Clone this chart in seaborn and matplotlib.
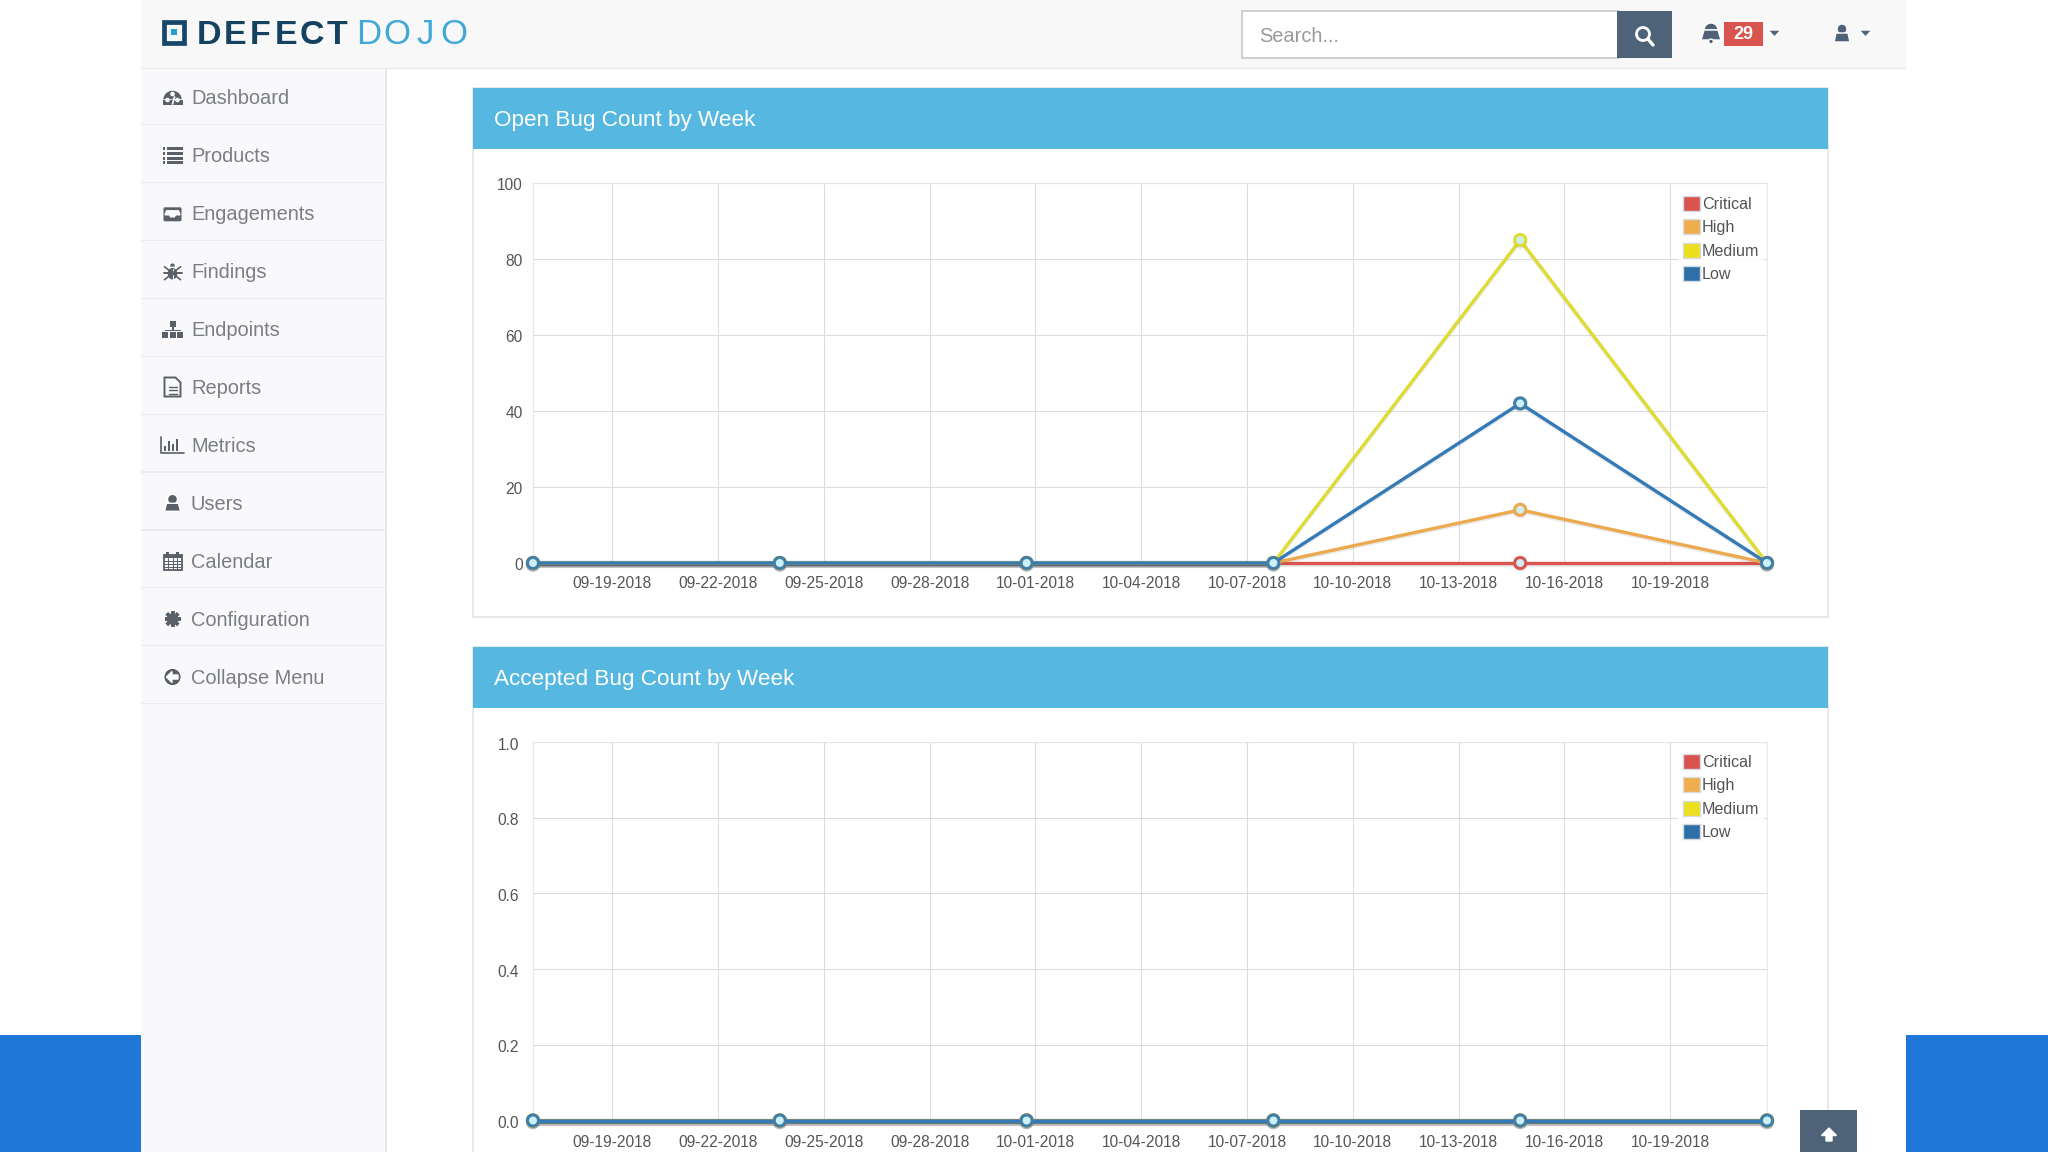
import pandas as pd
import matplotlib
matplotlib.use('Agg')
import matplotlib.pyplot as plt
import matplotlib.patheffects as pe
from matplotlib.patches import Rectangle, Circle, Ellipse, Wedge, Polygon, Patch, FancyBboxPatch
from matplotlib.transforms import ScaledTranslation
import seaborn as sns

# Dados dos dois graficos
week_dates = ['2018-09-16 18:00', '2018-09-23 18:00', '2018-09-30 18:00',
              '2018-10-07 18:00', '2018-10-14 18:00', '2018-10-21 18:00']
severities = ['Critical', 'High', 'Medium', 'Low']
open_critical = [0, 0, 0, 0, 0, 0]
open_high = [0, 0, 0, 0, 14, 0]
open_medium = [0, 0, 0, 0, 85, 0]
open_low = [0, 0, 0, 0, 42, 0]
accepted_critical = [0, 0, 0, 0, 0, 0]
accepted_high = [0, 0, 0, 0, 0, 0]
accepted_medium = [0, 0, 0, 0, 0, 0]
accepted_low = [0, 0, 0, 0, 0, 0]
tick_dates = ['2018-09-19', '2018-09-22', '2018-09-25', '2018-09-28', '2018-10-01', '2018-10-04',
              '2018-10-07', '2018-10-10', '2018-10-13', '2018-10-16', '2018-10-19']
tick_labels = ['09-19-2018', '09-22-2018', '09-25-2018', '09-28-2018', '10-01-2018', '10-04-2018',
               '10-07-2018', '10-10-2018', '10-13-2018', '10-16-2018', '10-19-2018']
open_yticks = [0, 20, 40, 60, 80, 100]
accepted_yticks = [0.0, 0.2, 0.4, 0.6, 0.8, 1.0]
menu_items = ['Dashboard', 'Products', 'Engagements', 'Findings', 'Endpoints', 'Reports',
              'Metrics', 'Users', 'Calendar', 'Configuration', 'Collapse Menu']

colors = {'Critical': '#d9534f', 'High': '#eda94f', 'Medium': '#dedc33', 'Low': '#337ab7'}
legend_colors = {'Critical': '#d9534f', 'High': '#f0ad4e', 'Medium': '#ebdf1e', 'Low': '#2f6fa8'}
ICON = '#5a6068'
TEXT = '#7a7e84'
PANEL = '#56b8e0'
SIDE = '#f9f9fb'
DARK = '#4f6378'

sns.set_theme(style='whitegrid')
plt.rcParams['font.family'] = ['Liberation Sans', 'DejaVu Sans']

W, H = 2048, 1152
fig = plt.figure(figsize=(W / 100, H / 100), dpi=100, facecolor='white')

# Fundo da pagina em coordenadas de pixel
page = fig.add_axes([0, 0, 1, 1], zorder=0)
page.set_xlim(0, W)
page.set_ylim(H, 0)
page.axis('off')


def box(x0, y0, x1, y1, color, **kw):
    page.add_patch(Rectangle((x0, y0), x1 - x0, y1 - y0, facecolor=color, edgecolor=kw.pop('edge', 'none'),
                             linewidth=kw.pop('lw', 0), **kw))


box(0, 1035, 141, H, '#1f78d8')
box(1906, 1035, W, H, '#1f78d8')
box(141, 0, 1906, H, 'white')
box(141, 0, 386, H, SIDE)
box(385, 68, 386.5, H, '#e7e7e7')
box(141, 0, 1906, 68, '#f8f8f8')
box(141, 67.5, 1906, 68.5, '#e7e7e7')

# Logotipo
box(163.5, 21.5, 184, 43, 'none', edge='#17466b', lw=3.4)
box(171, 29, 177, 35, '#2a9fd0')
for i, ch in enumerate('DEFECT'):
    page.text(209 + i * 25.6, 44, ch, fontsize=24.5, fontweight='bold', color='#14425f', va='baseline', ha='center')
for i, ch in enumerate('DOJO'):
    page.text(369 + i * 28.2, 44, ch, fontsize=25, color='#3fa9d6', va='baseline', ha='center')

# Barra de pesquisa e icones do topo
box(1242, 11, 1619, 58, 'white', edge='#cccccc', lw=1.3)
box(1617, 11, 1672, 58, DARK)
page.text(1259, 36.5, 'Search...', fontsize=14.4, color='#999999', va='center')
page.add_patch(Circle((1643, 34), 6.5, facecolor='none', edgecolor='white', linewidth=2))
page.plot([1648, 1653], [39, 45], color='white', lw=2.4)
page.add_patch(Wedge((1711, 30), 7, 180, 360, facecolor=DARK))
page.add_patch(Polygon([(1704, 30), (1718, 30), (1721, 40), (1701, 40)], facecolor=DARK))
page.add_patch(Circle((1711, 41.5), 2.4, facecolor=DARK))
box(1724, 22, 1763, 46, '#d9534f')
page.text(1743.5, 34.5, '29', fontsize=13, fontweight='bold', color='white', ha='center', va='center')
page.add_patch(Polygon([(1768, 30), (1781, 30), (1774.5, 37)], facecolor=DARK))
page.add_patch(Circle((1842, 29), 5, facecolor=DARK))
page.add_patch(Polygon([(1836, 33), (1848, 33), (1850, 42), (1834, 42)], facecolor=DARK))
page.add_patch(Polygon([(1859, 30), (1872, 30), (1865.5, 37)], facecolor=DARK))


# Icones do menu, cada um centrado em (x, y)
def draw_icon(name, x, y):
    if name == 'Dashboard':
        page.add_patch(Wedge((x, y + 2), 10, 180, 360, facecolor=ICON))
        box(x - 10, y + 2, x + 10, y + 7, ICON)
        page.add_patch(Circle((x - 5, y + 2), 1.6, facecolor=SIDE))
        page.add_patch(Circle((x + 5, y + 2), 1.6, facecolor=SIDE))
        page.add_patch(Circle((x, y - 4), 1.6, facecolor=SIDE))
        page.plot([x, x + 2], [y + 6, y - 1], color=SIDE, lw=1.3)
    elif name == 'Products':
        for k in (-7, -2.4, 2.2, 6.8):
            box(x - 10, y + k - 1.5, x - 7.5, y + k + 1.5, ICON)
            box(x - 6, y + k - 1.5, x + 10, y + k + 1.5, ICON)
    elif name == 'Engagements':
        page.add_patch(FancyBboxPatch((x - 7.5, y - 5), 15, 11, boxstyle='round,pad=1.5', facecolor=ICON, linewidth=0))
        page.add_patch(Polygon([(x - 6, y - 3), (x + 6, y - 3), (x + 7.5, y + 1), (x + 3, y + 1), (x + 2, y + 3), (x - 2, y + 3),
                                (x - 3, y + 1), (x - 7.5, y + 1)], facecolor=SIDE))
    elif name == 'Findings':
        page.add_patch(Circle((x, y - 6), 3, facecolor=ICON))
        page.add_patch(Ellipse((x, y + 2), 11, 13, facecolor=ICON))
        page.plot([x, x], [y - 3, y + 9], color=SIDE, lw=.8)
        page.plot([x - 9, x + 9], [y + 1, y + 1], color=ICON, lw=1.4)
        page.plot([x - 8, x + 8], [y + 8, y - 5], color=ICON, lw=1.2)
        page.plot([x - 8, x + 8], [y - 5, y + 8], color=ICON, lw=1.2)
    elif name == 'Endpoints':
        box(x - 3, y - 9, x + 3, y - 3, ICON)
        box(x - 1, y - 3, x + 1, y + 1, ICON)
        box(x - 8, y, x + 8, y + 1.5, ICON)
        for k in (-7.5, 0, 7.5):
            box(x + k - 3, y + 2, x + k + 3, y + 8, ICON)
    elif name == 'Reports':
        page.add_patch(Polygon([(x - 8, y - 10), (x + 3, y - 10), (x + 8, y - 5), (x + 8, y + 9), (x - 8, y + 9)],
                               facecolor='none', edgecolor=ICON, linewidth=1.4))
        for k in (-1, 2.5, 6):
            page.plot([x - 4, x + 4], [y + k, y + k], color=ICON, lw=1)
    elif name == 'Metrics':
        page.plot([x - 12, x - 12, x + 11], [y - 8, y + 8, y + 8], color=ICON, lw=1.2)
        for k, h in ((-9, 5), (-5, 10), (-1, 7), (3, 12)):
            box(x + k, y + 6 - h, x + k + 2.5, y + 6, ICON)
    elif name == 'Users':
        page.add_patch(Circle((x, y - 4), 5, facecolor=ICON))
        page.add_patch(Polygon([(x - 6, y), (x + 6, y), (x + 8, y + 8), (x - 8, y + 8)], facecolor=ICON))
    elif name == 'Calendar':
        box(x - 9, y - 6, x + 9, y + 9, 'none', edge=ICON, lw=1.3)
        box(x - 9, y - 6, x + 9, y - 3, ICON)
        for k in (-5, 5):
            box(x + k - 1.5, y - 9, x + k + 1.5, y - 4, ICON)
        for k in (0, 3, 6):
            page.plot([x - 9, x + 9], [y + k, y + k], color=ICON, lw=.7)
        for k in (-4.5, 0, 4.5):
            page.plot([x + k, x + k], [y - 3, y + 9], color=ICON, lw=.7)
    elif name == 'Configuration':
        page.plot([x - 8, x + 8], [y, y], color=ICON, lw=2.8, solid_capstyle='butt')
        page.plot([x, x], [y - 8, y + 8], color=ICON, lw=2.8, solid_capstyle='butt')
        page.plot([x - 5.8, x + 5.8], [y - 5.8, y + 5.8], color=ICON, lw=2.8, solid_capstyle='butt')
        page.plot([x - 5.8, x + 5.8], [y + 5.8, y - 5.8], color=ICON, lw=2.8, solid_capstyle='butt')
        page.add_patch(Circle((x, y), 6.5, facecolor=ICON))
        page.add_patch(Circle((x, y), 2.8, facecolor=SIDE))
    else:
        page.add_patch(Circle((x, y), 8.8, facecolor=ICON))
        page.add_patch(Polygon([(x - 6, y), (x - 0.5, y - 5.5), (x - 0.5, y - 2), (x + 5.5, y - 2), (x + 5.5, y + 2),
                                (x - 0.5, y + 2), (x - 0.5, y + 5.5)], facecolor=SIDE))


# Menu lateral
for i, item in enumerate(menu_items):
    y = 98 + i * 57.9
    page.text(191, y + 1, item, fontsize=14.4, color=TEXT, va='center')
    draw_icon(item, 172.5, y)
    box(141, y + 26, 386, y + 27.2, '#ececee')

# Paineis
box(473, 88, 1827.5, 617, 'white', edge='#e4e4e4', lw=1.2)
box(473, 88, 1827.5, 149, PANEL)
page.text(494, 120.5, 'Open Bug Count by Week', fontsize=16.2, color='white', va='center')
box(473, 647, 1827.5, 1160, 'white', edge='#e4e4e4', lw=1.2)
box(473, 647, 1827.5, 708, PANEL)
page.text(494, 680, 'Accepted Bug Count by Week', fontsize=16.2, color='white', va='center')

# Botao de voltar ao topo
box(1800, 1110, 1857, H, DARK)
page.add_patch(Polygon([(1829, 1128), (1836.5, 1135.5), (1832, 1135.5), (1832, 1141), (1826, 1141), (1826, 1135.5), (1821.5, 1135.5)],
                       facecolor='white'))


def build_frame(critical, high, medium, low):
    frames = []
    for name, vals in zip(severities, [critical, high, medium, low]):
        frames.append(pd.DataFrame({'week': pd.to_datetime(week_dates), 'count': vals, 'severity': name}))
    return pd.concat(frames, ignore_index=True)


def plot_counts(df, yticks, ylabels, top_px, bottom_px, legend_y, xpad, ypad, yshift):
    ax = fig.add_axes([533 / W, 1 - bottom_px / H, (1767 - 533) / W, (bottom_px - top_px) / H], zorder=2)

    # trechos onde as quatro series coincidem ficam mais grossos
    wide = df.pivot(index='week', columns='severity', values='count')
    same = wide.nunique(axis=1) == 1
    for a, b in zip(wide.index[:-1], wide.index[1:]):
        if same[a] and same[b]:
            flat = wide.loc[[a, b], 'Low'].reset_index()
            sns.lineplot(data=flat, x='week', y='Low', color='#3f7096', linewidth=3.7, ax=ax, errorbar=None,
                         solid_capstyle='butt', zorder=3, clip_on=False,
                         path_effects=[pe.SimpleLineShadow(offset=(0, -1.6), shadow_color='#555555', alpha=0.35), pe.Normal()])
    n_flat = len(ax.lines)

    sns.lineplot(data=df, x='week', y='count', hue='severity', hue_order=severities, palette=colors,
                 marker='o', markersize=8, linewidth=2.4, ax=ax, legend=False, errorbar=None)
    for line, name in zip(ax.lines[n_flat:], severities):
        line.set_markerfacecolor('#cdf0f8')
        line.set_markeredgecolor(colors[name] if name != 'Low' else '#3f7fa8')
        line.set_markeredgewidth(2.2)
        line.set_clip_on(False)
        line.set_zorder(3)
        line.set_path_effects([pe.SimpleLineShadow(offset=(0, -1.2), shadow_color='#555555', alpha=0.12), pe.Normal()])

    # marcadores ficam por cima das faixas grossas
    for line in ax.lines[:n_flat]:
        line.set_zorder(2.9)

    ax.set_xlim(pd.Timestamp(week_dates[0]), pd.Timestamp(week_dates[-1]))
    ax.set_ylim(yticks[0], yticks[-1])
    ax.set_xticks(pd.to_datetime(tick_dates))
    ax.set_xticklabels(tick_labels)
    ax.set_yticks(yticks)
    ax.set_yticklabels(ylabels)
    ax.set_xlabel('')
    ax.set_ylabel('')
    ax.set_facecolor('white')
    ax.grid(True, color='#dcdce1', linewidth=0.8)
    ax.set_axisbelow(True)
    ax.tick_params(axis='both', length=0, labelsize=11.2, labelcolor='#555555')
    ax.tick_params(axis='x', pad=xpad)
    ax.tick_params(axis='y', pad=ypad)
    for label in ax.get_yticklabels():
        label.set_transform(label.get_transform() + ScaledTranslation(0, -yshift / 100, fig.dpi_scale_trans))
    for side in ax.spines:
        ax.spines[side].set_color('#e6e6ea')
        ax.spines[side].set_linewidth(0.8)
    handles = [Patch(facecolor=legend_colors[s], edgecolor='#d5dbe0', linewidth=1, label=s) for s in severities]
    ax.legend(handles=handles, loc='upper left', bbox_to_anchor=(1678, legend_y), bbox_transform=page.transData,
              fontsize=11.6, labelspacing=0.47, handlelength=1.05, handleheight=1.05, handletextpad=0.12,
              borderpad=0.3, borderaxespad=0, frameon=True, framealpha=0.85, facecolor='white', edgecolor='none',
              fancybox=False, labelcolor='#545454')
    return ax


open_df = build_frame(open_critical, open_high, open_medium, open_low)
accepted_df = build_frame(accepted_critical, accepted_high, accepted_medium, accepted_low)
plot_counts(open_df, open_yticks, [str(v) for v in open_yticks], 183, 563, 191, 9, 7.5, 1)
plot_counts(accepted_df, accepted_yticks, [f'{v:.1f}' for v in accepted_yticks], 742, 1120.5, 749, 10.5, 10, 1.5)

fig.savefig('out.png', dpi=100)
